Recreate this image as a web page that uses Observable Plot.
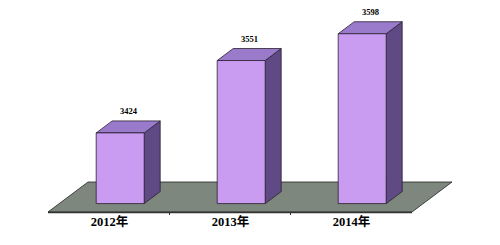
<!DOCTYPE html>
<html><head><meta charset="utf-8">
<script src="https://cdn.jsdelivr.net/npm/d3@7"></script>
<script src="https://cdn.jsdelivr.net/npm/@observablehq/plot@0.6"></script>
<style>body{margin:0;background:#fff}</style>
</head><body><div id="chart"></div>
<script>
const years = ["2012年", "2013年", "2014年"];
const values = [3424, 3551, 3598];
const yBase = 3300, yTop = 3650;
const data = years.map((year, i) => ({year, value: values[i]}));

// 3D geometry (pixels): floor depth vector; bars sit inside the floor depth
const FLOOR = [40, -30];
const FRONT = 0.28;
const DEPTH = 0.4;

function scene(index, scales, vals, dims) {
  const {x, y} = scales;
  const g = d3.create("svg:g");
  const x0 = dims.marginLeft, x1 = dims.width - dims.marginRight;
  const y0 = y(yBase);
  const [fx, fy] = FLOOR;
  const P = pts => pts.map(p => p.join(",")).join(" ");
  g.append("polygon")
    .attr("points", P([[x0, y0], [x1, y0], [x1 + fx, y0 + fy], [x0 + fx, y0 + fy]]))
    .attr("fill", "#7e877e").attr("stroke", "#222").attr("stroke-width", 0.8);
  g.append("line").attr("x1", x0).attr("x2", x1).attr("y1", y0 + 0.5).attr("y2", y0 + 0.5)
    .attr("stroke", "#333").attr("stroke-width", 1.5);
  const bw = x.bandwidth();
  for (let i = 0; i < years.length - 1; ++i) {
    const bx = (x(years[i]) + bw + x(years[i + 1])) / 2;
    g.append("line").attr("x1", bx).attr("x2", bx).attr("y1", y0).attr("y2", y0 + 3)
      .attr("stroke", "#333");
  }
  const dx = DEPTH * fx, dy = DEPTH * fy;
  years.forEach((yr, i) => {
    const l = x(yr) + FRONT * fx, r = l + bw;
    const b = y0 + FRONT * fy, t = y(values[i]) + FRONT * fy;
    const st = s => s.attr("stroke", "#2a2030").attr("stroke-width", 0.8).attr("stroke-linejoin", "round");
    st(g.append("polygon").attr("points", P([[r, t], [r + dx, t + dy], [r + dx, b + dy], [r, b]])).attr("fill", "#5f4a85"));
    st(g.append("polygon").attr("points", P([[l, t], [r, t], [r + dx, t + dy], [l + dx, t + dy]])).attr("fill", "#9a7acb"));
    st(g.append("polygon").attr("points", P([[l, t], [r, t], [r, b], [l, b]])).attr("fill", "#c99cf2"));
  });
  return g.node();
}

const chart = Plot.plot({
  width: 500,
  height: 245,
  marginLeft: 48,
  marginRight: 88,
  marginTop: 12.5,
  marginBottom: 33,
  style: {background: "#fff", fontFamily: "'Liberation Serif', 'Noto Sans CJK SC', serif"},
  x: {type: "band", domain: years, paddingInner: 0.6, paddingOuter: 0.3, axis: null},
  y: {domain: [yBase, yTop], axis: null},
  marks: [
    scene,
    Plot.text(data, {x: "year", y: () => yBase, text: "year", dy: 9, fontSize: 12.5, fontWeight: "bold", fill: "#000", lineAnchor: "middle"}),
    Plot.text(data, {x: "year", y: "value", text: d => String(d.value), dx: 19, dy: -30.5, fontSize: 8.5, fontWeight: "bold", fill: "#000", lineAnchor: "middle"})
  ]
});
document.getElementById("chart").appendChild(chart);
</script>
</body></html>
